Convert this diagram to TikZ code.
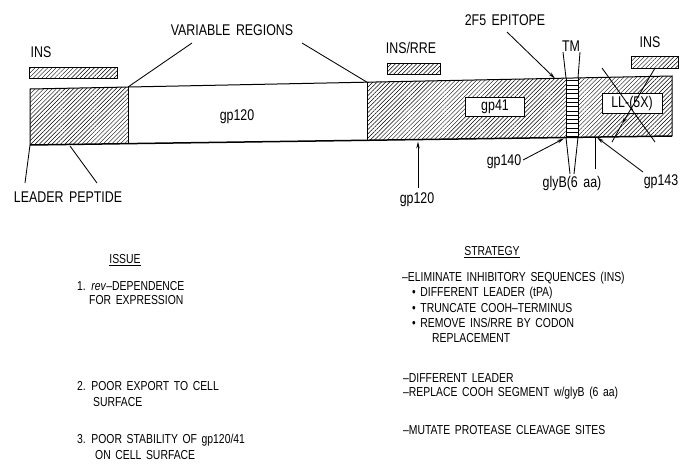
\documentclass[tikz,border=0pt]{standalone}
\usepackage{fontspec}
\setmainfont{Liberation Sans}[FakeStretch=0.8,WordSpace=1.6]
\usetikzlibrary{patterns.meta,arrows.meta}
\begin{document}
\begin{tikzpicture}[x=1pt,y=-1pt,
  every node/.style={font=\fontsize{15.5}{18}\selectfont,inner sep=0pt},
  hatch/.style={pattern={Lines[angle=45,distance=3pt,line width=0.45pt]}},
  tmfill/.style={pattern={Lines[angle=0,distance=4.3pt,line width=0.5pt]}},
  insbox/.style={draw,line width=1pt,hatch,minimum height=11pt},
  txt/.style={anchor=west,font=\fontsize{13}{15}\selectfont},
  head/.style={font=\fontsize{13}{15}\selectfont},
  conn/.style={line width=0.85pt},
  arr/.style={line width=0.85pt,-{Stealth[length=7pt,width=3.4pt]}},
  whitebox/.style={draw,fill=white,line width=0.9pt}]
\useasboundingbox (0,0) rectangle (700,472);
% bar corners
\coordinate (TL) at (30,89);
\coordinate (TR) at (672,76);
\coordinate (BR) at (672,136);
\coordinate (BL) at (30,145);
\coordinate (a1t) at (128,87);
\coordinate (a1b) at (128,143.6);
\coordinate (a2t) at (367,82.2);
\coordinate (a2b) at (367,140.3);
\coordinate (m1t) at (566,78.1);
\coordinate (m1b) at (566,137.5);
\coordinate (m2t) at (578,77.9);
\coordinate (m2b) at (578,137.3);
% segments
\fill[hatch] (TL) -- (a1t) -- (a1b) -- (BL) -- cycle;
\fill[hatch] (a2t) -- (m1t) -- (m1b) -- (a2b) -- cycle;
\fill[tmfill] (m1t) -- (m2t) -- (m2b) -- (m1b) -- cycle;
\fill[hatch] (m2t) -- (TR) -- (BR) -- (m2b) -- cycle;
\draw[line width=0.6pt] (a1t) -- (a1b) (a2t) -- (a2b) (m1t) -- (m1b) (m2t) -- (m2b);
\draw[line width=1pt] (BL) -- (TL) -- (TR) -- (BR);
\draw[line width=1.5pt] (BL) -- (BR);
% inner labels
\node (gp120) at (237,117) {gp120};
\node[whitebox,minimum width=59pt,minimum height=19pt] (gp41) at (495,107) {gp41};
\node[whitebox,minimum width=60pt,minimum height=20pt] (ll) at (632,103) {LL-(5X)};
% INS boxes
\node[insbox,minimum width=88pt] (ins1) at (73,72.5) {};
\node[insbox,minimum width=53pt] (ins2) at (413.5,68.5) {};
\node[insbox,minimum width=47pt,minimum height=12pt] (ins3) at (654.5,62) {};
% top labels
\node (lINS1) at (41,52) {INS};
\node (lvar) at (232,30) {VARIABLE REGIONS};
\node (lINSRRE) at (411,48) {INS/RRE};
\node (l2f5) at (505,20) {2F5 EPITOPE};
\node (lTM) at (571,46) {TM};
\node (lINS3) at (650,42) {INS};
% bottom labels
\node (lleader) at (68,197) {LEADER PEPTIDE};
\node (lgp120) at (417,200) {gp120};
\node (lgp140) at (504,162) {gp140};
\node (lglyB) at (572,183) {glyB(6 aa)};
\node (lgp143) at (661,182) {gp143};
% connector coordinates
\coordinate (v1) at (192,43);
\coordinate (v2) at (302,43);
\coordinate (p1) at (25,183);
\coordinate (p2) at (97,183);
\coordinate (p2e) at (70,146);
\coordinate (g120s) at (418,188);
\coordinate (g120e) at (418,141.5);
\coordinate (g140s) at (523,160);
\coordinate (g140e) at (564,138.5);
\coordinate (g143s) at (643,172);
\coordinate (g143e) at (597,137.5);
\coordinate (aas) at (595,169);
\coordinate (aae) at (595,137);
\coordinate (gl1) at (570,174);
\coordinate (gl2) at (574,174);
\coordinate (tm1) at (563,52);
\coordinate (tm2) at (580,52);
\coordinate (f5s) at (507,32);
\coordinate (f5e) at (555,78.5);
\coordinate (x1) at (602,68);
\coordinate (x2) at (655,142);
\coordinate (ia) at (655,68);
\coordinate (ib) at (622,124);
\coordinate (ic) at (612,142);
% connectors
\draw[conn] (v1) -- (a1t);
\draw[conn] (v2) -- (a2t);
\draw[conn] (p1) -- (BL);
\draw[conn] (p2) -- (p2e);
\draw[arr] (g120s) -- (g120e);
\draw[arr] (g140s) -- (g140e);
\draw[arr] (g143s) -- (g143e);
\draw[conn] (aas) -- (aae);
\draw[conn] (gl1) -- (m1b);
\draw[conn] (gl2) -- (m2b);
\draw[conn] (tm1) -- (m1t);
\draw[conn] (tm2) -- (m2t);
\draw[arr] (f5s) -- (f5e);
\draw[conn] (x1) -- (x2);
\draw[arr] (ia) -- (ib);
\draw[conn] (ib) -- (ic);
% issue / strategy
\node[head] (issue) at (125,260) {\underline{ISSUE}};
\node[txt] (i1a) at (77,286) {1. \textit{rev}--DEPENDENCE};
\node[txt] (i1b) at (89,300) {FOR EXPRESSION};
\node[txt] (i2a) at (77,386) {2. POOR EXPORT TO CELL};
\node[txt] (i2b) at (93,402) {SURFACE};
\node[txt] (i3a) at (77,440) {3. POOR STABILITY OF gp120/41};
\node[txt] (i3b) at (95,455) {ON CELL SURFACE};
\node[head] (strat) at (492,252) {\underline{STRATEGY}};
\node[txt] (s1) at (402,278) {--ELIMINATE INHIBITORY SEQUENCES (INS)};
\node[txt] (s1a) at (412,293) {\textbullet\ DIFFERENT LEADER (tPA)};
\node[txt] (s1b) at (412,308) {\textbullet\ TRUNCATE COOH--TERMINUS};
\node[txt] (s1c) at (412,323) {\textbullet\ REMOVE INS/RRE BY CODON};
\node[txt] (s1d) at (432,338) {REPLACEMENT};
\node[txt] (s2) at (403,378) {--DIFFERENT LEADER};
\node[txt] (s3) at (403,393) {--REPLACE COOH SEGMENT w/glyB (6 aa)};
\node[txt] (s4) at (403,430) {--MUTATE PROTEASE CLEAVAGE SITES};
\end{tikzpicture}
\end{document}
